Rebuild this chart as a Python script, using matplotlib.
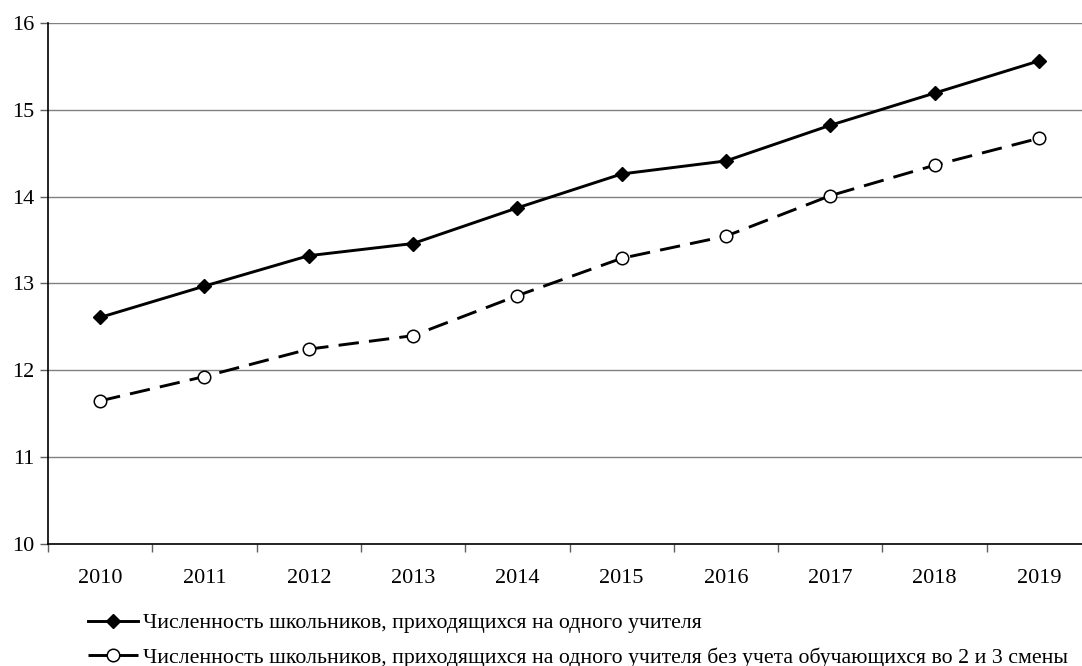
import numpy as np
import matplotlib.pyplot as plt

plt.rcParams['font.family'] = ['Liberation Serif', 'DejaVu Serif']

# data
years = ['2010', '2011', '2012', '2013', '2014', '2015', '2016', '2017', '2018', '2019']
per_teacher = [12.61, 12.97, 13.32, 13.46, 13.87, 14.26, 14.41, 14.82, 15.19, 15.56]
per_teacher_no_shifts = [11.65, 11.93, 12.245, 12.40, 12.86, 13.29, 13.545, 14.01, 14.36, 14.67]
labels = ['Численность школьников, приходящихся на одного учителя',
          'Численность школьников, приходящихся на одного учителя без учета обучающихся во 2 и 3 смены']

fig = plt.figure(figsize=(10.82, 6.66), dpi=100)
# axes runs a bit past the right edge, like the cropped original
ax = fig.add_axes([48 / 1082, 121.7 / 666, 1043 / 1082, 521.6 / 666])

x = np.arange(len(years))
l1, = ax.plot(x, per_teacher, color='black', lw=2.1, marker='D', markersize=7.5,
              markerfacecolor='black', markeredgecolor='black', zorder=5)
l2, = ax.plot(x, per_teacher_no_shifts, color='black', lw=2.1, dashes=(7, 3.5),
              marker='o', markersize=9, markerfacecolor='white',
              markeredgecolor='black', markeredgewidth=1.1, zorder=5)

ax.set_xlim(-0.5, len(years) - 0.5)
ax.set_ylim(10, 16)
ax.set_yticks(range(10, 17))
ax.yaxis.grid(True, color='#808080', lw=1.0)
ax.set_axisbelow(True)

ax.set_xticks(x)
ax.set_xticklabels(years)
ax.set_xticks(np.arange(-0.5, len(years)), minor=True)
ax.tick_params(axis='x', which='major', length=0, pad=18, labelsize=16)
ax.tick_params(axis='x', which='minor', length=6, width=1, color='#606060')
ax.tick_params(axis='y', length=6, width=1, color='#606060', labelsize=16, pad=4)

for s in ['top', 'right']:
    ax.spines[s].set_visible(False)
ax.spines['left'].set_linewidth(1.2)
ax.spines['bottom'].set_linewidth(1.2)

fig.legend([l1, l2], labels, loc='upper left', bbox_to_anchor=(88 / 1082, 1 - 613 / 666),
           frameon=False, fontsize=15.7, handlelength=2.3, handletextpad=0.2,
           labelspacing=0.63, borderpad=0, borderaxespad=0)

fig.savefig('out.png', dpi=100)
